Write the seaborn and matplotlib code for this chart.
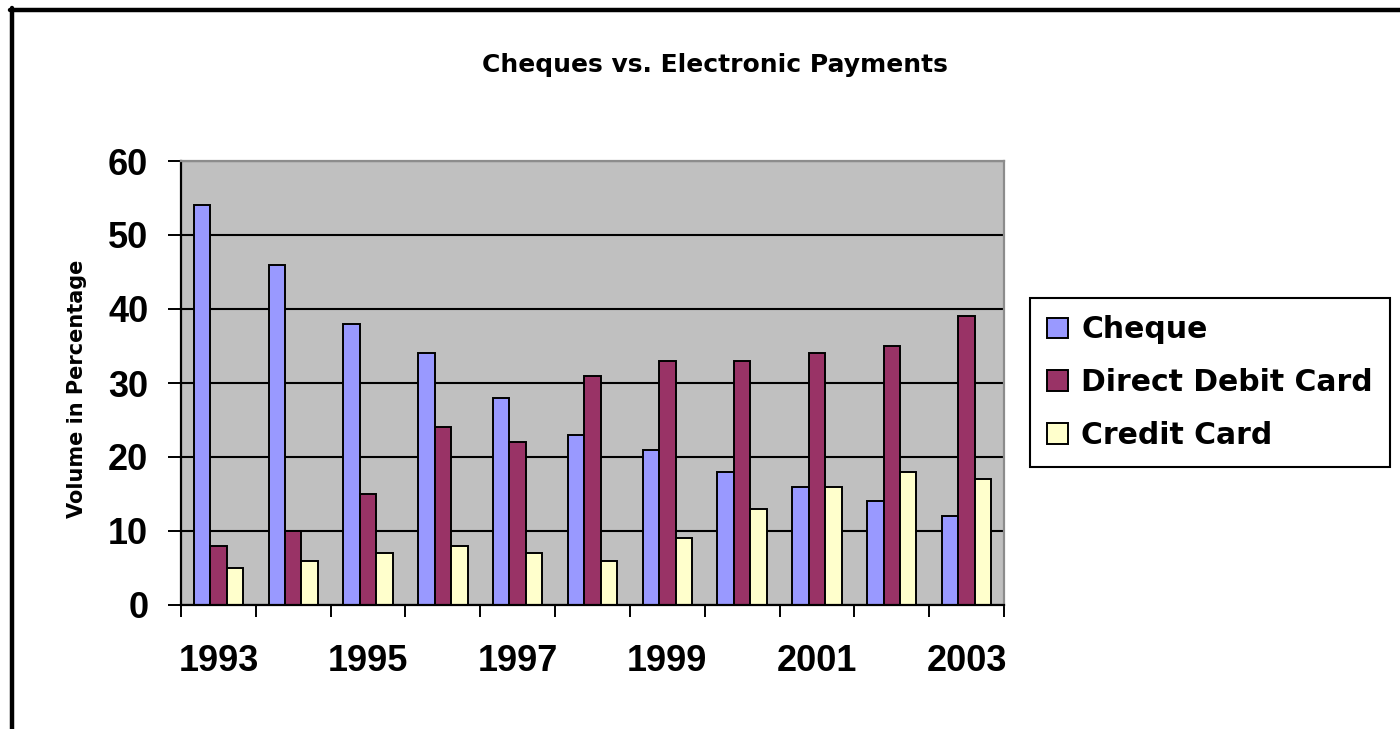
import matplotlib
matplotlib.use("Agg")
import numpy as np
import pandas as pd
import matplotlib.pyplot as plt
import seaborn as sns
from matplotlib.lines import Line2D

# ---- data ----
years = ["1993", "1994", "1995", "1996", "1997", "1998", "1999", "2000", "2001", "2002", "2003"]
cheque = [54, 46, 38, 34, 28, 23, 21, 18, 16, 14, 12]
direct_debit = [8, 10, 15, 24, 22, 31, 33, 33, 34, 35, 39]
credit_card = [5, 6, 7, 8, 7, 6, 9, 13, 16, 18, 17]
series_names = ["Cheque", "Direct Debit Card", "Credit Card"]
colors = ["#9999FF", "#993366", "#FFFFCC"]
yticks = [0, 10, 20, 30, 40, 50, 60]
title = "Cheques vs. Electronic Payments"
ylabel = "Volume in Percentage"

df = pd.DataFrame({
    "Year": years * 3,
    "Series": [series_names[0]] * len(years) + [series_names[1]] * len(years) + [series_names[2]] * len(years),
    "Value": cheque + direct_debit + credit_card,
})

sns.set_theme(style="white")
plt.rcParams["font.family"] = ["DejaVu Sans"]
plt.rcParams["text.color"] = "black"
plt.rcParams["axes.labelcolor"] = "black"
plt.rcParams["xtick.color"] = "black"
plt.rcParams["ytick.color"] = "black"

W, H = 1400, 729
fig = plt.figure(figsize=(W / 100, H / 100), dpi=100)
fig.patch.set_facecolor("white")

L, R, T, B = 181, 1004, 161, 605
ax = fig.add_axes([L / W, 1 - B / H, (R - L) / W, (B - T) / H])
ax.set_facecolor("#C0C0C0")

sns.barplot(data=df, x="Year", y="Value", hue="Series", hue_order=series_names,
            palette=colors, saturation=1, width=0.66, edgecolor="black",
            linewidth=1.4, ax=ax, legend=True)

ax.set_xlim(-0.5, len(years) - 0.5)
ax.set_ylim(0, 60)
ax.set_xlabel("")
ax.set_ylabel("")

# gridlines
ax.set_axisbelow(True)
ax.yaxis.grid(True, color="black", linewidth=1.5)
ax.xaxis.grid(False)

# spines
for s in ["left", "bottom"]:
    ax.spines[s].set_color("black")
    ax.spines[s].set_linewidth(1.6)
for s in ["top", "right"]:
    ax.spines[s].set_color("#8c8c8c")
    ax.spines[s].set_linewidth(1.6)

tick_font = dict(family="Liberation Sans", weight="bold", size=26, color="black")

# y ticks
ax.set_yticks(yticks)
ax.set_yticklabels([str(v) for v in yticks], fontdict=tick_font)
ax.tick_params(axis="y", which="major", direction="out", length=9.5, width=1.4,
               color="black", pad=14, left=True)

# x ticks: labels every other category, tick marks at boundaries
pos = np.arange(len(years))
ax.set_xticks(pos[::2])
ax.set_xticklabels(years[::2], fontdict=tick_font)
ax.set_xticks(np.arange(-0.5, len(years), 1.0), minor=True)
ax.tick_params(axis="x", which="major", length=0, pad=28, bottom=True)
ax.tick_params(axis="x", which="minor", direction="out", length=8.6, width=1.4,
               color="black", bottom=True)

# title & y label
fig.text(715 / W, 1 - 65 / H, title, ha="center", va="center",
         fontsize=18, fontweight="bold", family="DejaVu Sans", color="black")
fig.text(77 / W, 1 - 389 / H, ylabel, ha="center", va="center", rotation=90,
         fontsize=15, fontweight="bold", family="DejaVu Sans", color="black")

# legend
handles, labels = ax.get_legend_handles_labels()
if ax.get_legend() is not None:
    ax.get_legend().remove()
leg = ax.legend(handles, labels, loc="upper left",
                bbox_to_anchor=(1030 / W, 1 - 298 / H), bbox_transform=fig.transFigure,
                prop=dict(family="DejaVu Sans", weight="bold", size=21.5),
                frameon=True, fancybox=False, shadow=False, framealpha=1,
                handlelength=0.68, handleheight=0.68, handletextpad=0.45,
                borderpad=0.58, labelspacing=0.8, borderaxespad=0)
leg.get_frame().set_edgecolor("black")
leg.get_frame().set_linewidth(1.5)
for t in leg.get_texts():
    t.set_color("black")

# outer frame (top and left)
fig.add_artist(Line2D([10 / W, 1], [1 - 10 / H, 1 - 10 / H], transform=fig.transFigure,
                      color="black", linewidth=3.2))
fig.add_artist(Line2D([12 / W, 12 / W], [0, 1 - 8 / H], transform=fig.transFigure,
                      color="black", linewidth=3.2))

fig.savefig("out.png", dpi=100)
